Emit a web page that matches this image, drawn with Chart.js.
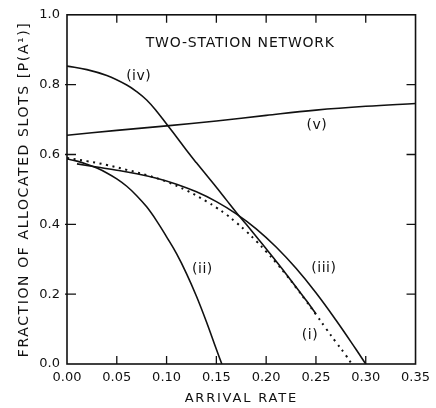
<!DOCTYPE html>
<html>
<head>
<meta charset="utf-8">
<script src="https://cdn.jsdelivr.net/npm/chart.js@4.4.1/dist/chart.umd.min.js"></script>
<style>
  html, body { margin: 0; padding: 0; background: #fff; }
  canvas { display: block; }
</style>
</head>
<body>
<canvas id="c" width="436" height="408"></canvas>
<script>
// ---- data ----
const xTickLabels = ['0.00','0.05','0.10','0.15','0.20','0.25','0.30','0.35'];
const yTickLabels = ['0.0','0.2','0.4','0.6','0.8','1.0'];

// curve (i) - dotted
const curveIX = [0.00,0.02,0.04,0.06,0.08,0.10,0.12,0.14,0.15,0.16,0.17,0.18,0.19,0.20,0.21,0.22,0.23,0.24,0.25,0.26,0.27,0.28,0.286];
const curveIY = [0.590,0.581,0.570,0.556,0.541,0.522,0.497,0.466,0.448,0.428,0.405,0.380,0.352,0.322,0.290,0.256,0.219,0.181,0.142,0.102,0.063,0.025,0.0];

// curve (ii)
const curveIIX = [0.00,0.01,0.02,0.03,0.04,0.05,0.06,0.07,0.08,0.09,0.10,0.11,0.12,0.13,0.14,0.15,0.1555];
const curveIIY = [0.587,0.581,0.572,0.561,0.547,0.530,0.509,0.482,0.450,0.410,0.364,0.316,0.259,0.194,0.121,0.042,0.0];

// curve (iii)
const curveIIIX = [0.01,0.03,0.05,0.07,0.09,0.11,0.13,0.15,0.17,0.19,0.21,0.23,0.25,0.27,0.29,0.30];
const curveIIIY = [0.573,0.564,0.555,0.545,0.532,0.515,0.493,0.465,0.430,0.387,0.335,0.274,0.204,0.126,0.043,0.0];

// curve (iv)
const curveIVX = [0.00,0.02,0.04,0.06,0.07,0.08,0.09,0.10,0.11,0.12,0.13,0.14,0.15,0.16,0.17,0.18,0.19,0.20,0.22,0.24,0.25];
const curveIVY = [0.853,0.843,0.826,0.799,0.780,0.756,0.724,0.687,0.650,0.612,0.576,0.541,0.506,0.470,0.434,0.400,0.365,0.330,0.258,0.183,0.144];

// curve (v)
const curveVX = [0.00,0.05,0.10,0.15,0.20,0.25,0.30,0.35];
const curveVY = [0.655,0.669,0.682,0.696,0.712,0.727,0.738,0.746];

// text annotations (placed in data coordinates)
const noteTexts = ['TWO-STATION NETWORK','(iv)','(v)','(ii)','(iii)','(i)'];
const noteX = [0.174,0.072,0.251,0.136,0.258,0.244];
const noteY = [0.917,0.825,0.682,0.271,0.275,0.081];

// ---- build chart ----
const FONT = "'DejaVu Sans', 'Liberation Sans', sans-serif";
const INK = '#111';

function pts(xs, ys) { return xs.map((x, i) => ({x: x, y: ys[i]})); }

function solid(data) {
  return { data: data, borderColor: INK, borderWidth: 1.6, pointRadius: 0,
           fill: false, tension: 0.4 };
}

const datasets = [
  Object.assign(solid(pts(curveIX, curveIY)), { borderWidth: 2, borderDash: [2, 4.6] }),
  solid(pts(curveIIX, curveIIY)),
  solid(pts(curveIIIX, curveIIIY)),
  solid(pts(curveIVX, curveIVY)),
  solid(pts(curveVX, curveVY))
];

// widen the axis titles' letter spacing, as in the hand-lettered original
const spacingPlugin = {
  id: 'titleSpacing',
  beforeDraw(chart) {
    const spacing = { x: '1.8px', y: '1.6px' };
    Object.keys(spacing).forEach(id => {
      const s = chart.scales[id];
      if (!s || s._spacedTitle) return;
      const orig = s.drawTitle;
      s.drawTitle = function () {
        this.ctx.save();
        this.ctx.letterSpacing = spacing[id];
        orig.call(this);
        this.ctx.restore();
      };
      s._spacedTitle = true;
    });
  }
};

const framePlugin = {
  id: 'frame',
  afterDatasetsDraw(chart) {
    const {ctx, chartArea: a, scales: {x, y}} = chart;
    ctx.save();
    ctx.strokeStyle = INK;
    ctx.lineWidth = 1.6;
    ctx.strokeRect(a.left, a.top, a.right - a.left, a.bottom - a.top);
    ctx.lineWidth = 1.3;
    ctx.beginPath();
    x.ticks.forEach(t => {
      if (t.value <= x.min + 1e-9 || t.value >= x.max - 1e-9) return;
      const px = x.getPixelForValue(t.value);
      ctx.moveTo(px, a.bottom); ctx.lineTo(px, a.bottom - 8);
      ctx.moveTo(px, a.top); ctx.lineTo(px, a.top + 8);
    });
    y.ticks.forEach(t => {
      if (t.value <= y.min + 1e-9 || t.value >= y.max - 1e-9) return;
      const py = y.getPixelForValue(t.value);
      ctx.moveTo(a.left - 2, py); ctx.lineTo(a.left + 9, py);
      ctx.moveTo(a.right, py); ctx.lineTo(a.right - 9, py);
    });
    ctx.stroke();

    ctx.fillStyle = INK;
    ctx.textAlign = 'center';
    ctx.textBaseline = 'middle';
    noteTexts.forEach((txt, i) => {
      ctx.font = '14px ' + FONT;
      ctx.letterSpacing = i === 0 ? '0.8px' : '0.5px';
      ctx.fillText(txt, x.getPixelForValue(noteX[i]), y.getPixelForValue(noteY[i]));
    });
    ctx.restore();
  }
};

new Chart(document.getElementById('c'), {
  type: 'line',
  data: { datasets: datasets },
  options: {
    responsive: false,
    animation: false,
    devicePixelRatio: 1,
    layout: { padding: { left: 0, right: 19, top: 13, bottom: 0 } },
    plugins: { legend: { display: false }, tooltip: { enabled: false } },
    scales: {
      x: {
        type: 'linear', min: 0, max: 0.35,
        grid: { display: false, drawTicks: false },
        border: { display: false },
        ticks: {
          stepSize: 0.05, padding: 6, color: INK, maxRotation: 0, autoSkip: false,
          font: { family: FONT, size: 13 },
          callback: (v, i) => xTickLabels[i]
        },
        title: { display: true, text: 'ARRIVAL RATE', color: INK,
                 font: { family: FONT, size: 13 }, padding: { top: 0, bottom: 2 } },
        afterFit: s => { s.height = 44; }
      },
      y: {
        type: 'linear', min: 0, max: 1,
        grid: { display: false, drawTicks: false },
        border: { display: false },
        ticks: {
          stepSize: 0.2, padding: 7, color: INK, autoSkip: false,
          font: { family: FONT, size: 13 },
          callback: (v, i) => yTickLabels[i]
        },
        title: { display: true, text: 'FRACTION OF ALLOCATED SLOTS [P(A\u00B9)]', color: INK,
                 font: { family: FONT, size: 14 }, padding: { top: 16, bottom: 0 } },
        afterFit: s => { s.width = 67; }
      }
    }
  },
  plugins: [spacingPlugin, framePlugin]
});
</script>
</body>
</html>
